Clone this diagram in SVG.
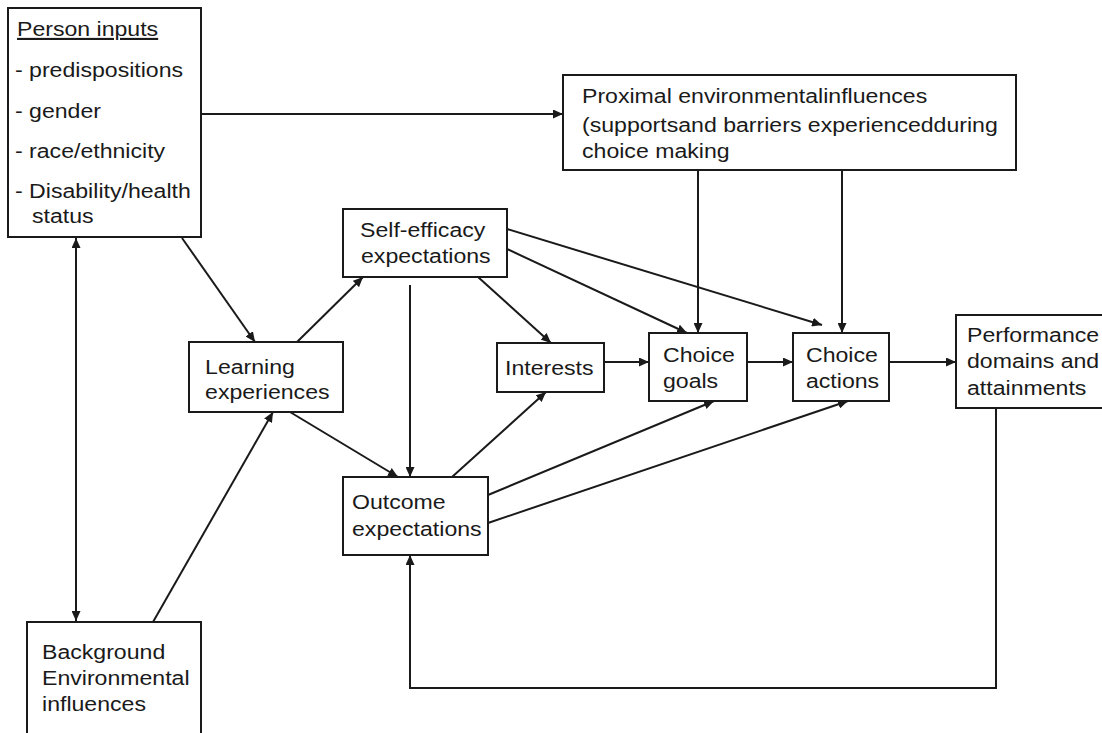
<svg xmlns="http://www.w3.org/2000/svg" width="1102" height="733" viewBox="0 0 1102 733">
<style>
.box{fill:#fff;stroke:#1a1a1a;stroke-width:2}
.t{font-family:"Liberation Sans",Arial,sans-serif;font-size:21px;fill:#1a1a1a}
.c{fill:none;stroke:#1a1a1a;stroke-width:2}
</style>
<defs>
<marker id="ah" markerUnits="userSpaceOnUse" markerWidth="10" markerHeight="9" refX="10" refY="4.5" orient="auto-start-reverse">
<path d="M0,0 L10,4.5 L0,9 z" fill="#1a1a1a"/>
</marker>
</defs>
<rect width="1102" height="733" fill="#fff"/>
<g id="connectors">
<path class="c" d="M201,114 L563,114" marker-end="url(#ah)"/>
<path class="c" d="M76,238 L76,621" marker-start="url(#ah)" marker-end="url(#ah)"/>
<path class="c" d="M182,238 L255,342" marker-end="url(#ah)"/>
<path class="c" d="M297,342 L363,277" marker-end="url(#ah)"/>
<path class="c" d="M153,622 L273,412" marker-end="url(#ah)"/>
<path class="c" d="M290,412 L398,477" marker-end="url(#ah)"/>
<path class="c" d="M410,285 L410,477" marker-end="url(#ah)"/>
<path class="c" d="M478,277 L551,343" marker-end="url(#ah)"/>
<path class="c" d="M507,249 L687,333" marker-end="url(#ah)"/>
<path class="c" d="M507,229 L822,325" marker-end="url(#ah)"/>
<path class="c" d="M698,170 L698,333" marker-end="url(#ah)"/>
<path class="c" d="M842,170 L842,333" marker-end="url(#ah)"/>
<path class="c" d="M604,362 L649,362" marker-end="url(#ah)"/>
<path class="c" d="M747,362 L793,362" marker-end="url(#ah)"/>
<path class="c" d="M889,362 L956,362" marker-end="url(#ah)"/>
<path class="c" d="M452,477 L546,392" marker-end="url(#ah)"/>
<path class="c" d="M488,495 L714,401" marker-end="url(#ah)"/>
<path class="c" d="M488,523 L848,401" marker-end="url(#ah)"/>
<path class="c" d="M996,408 L996,688 L410,688 L410,555" marker-end="url(#ah)"/>
</g>
<g id="person-inputs">
<rect class="box" x="8" y="8" width="193" height="229"/>
<text class="t" transform="scale(1.1,1)" x="15.45" y="36" text-decoration="underline">Person inputs</text>
<text class="t" transform="scale(1.1,1)" x="13.64" y="77">- predispositions</text>
<text class="t" transform="scale(1.1,1)" x="13.64" y="118">- gender</text>
<text class="t" transform="scale(1.1,1)" x="13.64" y="158">- race/ethnicity</text>
<text class="t" transform="scale(1.1,1)" x="13.64" y="198">- Disability/health</text>
<text class="t" transform="scale(1.1,1)" x="29.09" y="223">status</text>
</g>
<g id="proximal">
<rect class="box" x="563" y="75" width="453" height="95"/>
<text class="t" transform="scale(1.1,1)" x="529.1" y="103">Proximal environmentalinfluences</text>
<text class="t" transform="scale(1.1,1)" x="529.1" y="132">(supportsand barriers experiencedduring</text>
<text class="t" transform="scale(1.1,1)" x="529.1" y="158">choice making</text>
</g>
<g id="self-efficacy">
<rect class="box" x="343" y="209" width="164" height="68"/>
<text class="t" transform="scale(1.1,1)" x="327.3" y="237">Self-efficacy</text>
<text class="t" transform="scale(1.1,1)" x="328.2" y="263">expectations</text>
</g>
<g id="learning">
<rect class="box" x="189" y="342" width="154" height="70"/>
<text class="t" transform="scale(1.1,1)" x="186.4" y="374">Learning</text>
<text class="t" transform="scale(1.1,1)" x="186.4" y="399">experiences</text>
</g>
<g id="interests">
<rect class="box" x="497" y="343" width="107" height="49"/>
<text class="t" transform="scale(1.1,1)" x="459.1" y="375">Interests</text>
</g>
<g id="choice-goals">
<rect class="box" x="649" y="333" width="98" height="68"/>
<text class="t" transform="scale(1.1,1)" x="602.7" y="362">Choice</text>
<text class="t" transform="scale(1.1,1)" x="602.7" y="388">goals</text>
</g>
<g id="choice-actions">
<rect class="box" x="793" y="333" width="96" height="68"/>
<text class="t" transform="scale(1.1,1)" x="732.7" y="362">Choice</text>
<text class="t" transform="scale(1.1,1)" x="732.7" y="388">actions</text>
</g>
<g id="performance">
<rect class="box" x="956" y="315" width="152" height="93"/>
<text class="t" transform="scale(1.1,1)" x="879.1" y="342">Performance</text>
<text class="t" transform="scale(1.1,1)" x="879.1" y="368">domains and</text>
<text class="t" transform="scale(1.1,1)" x="879.1" y="395">attainments</text>
</g>
<g id="outcome">
<rect class="box" x="343" y="477" width="145" height="78"/>
<text class="t" transform="scale(1.1,1)" x="320" y="509">Outcome</text>
<text class="t" transform="scale(1.1,1)" x="320" y="536">expectations</text>
</g>
<g id="background">
<rect class="box" x="27" y="622" width="174" height="120"/>
<text class="t" transform="scale(1.1,1)" x="38.2" y="659">Background</text>
<text class="t" transform="scale(1.1,1)" x="38.2" y="685">Environmental</text>
<text class="t" transform="scale(1.1,1)" x="38.2" y="711">influences</text>
</g>
</svg>
